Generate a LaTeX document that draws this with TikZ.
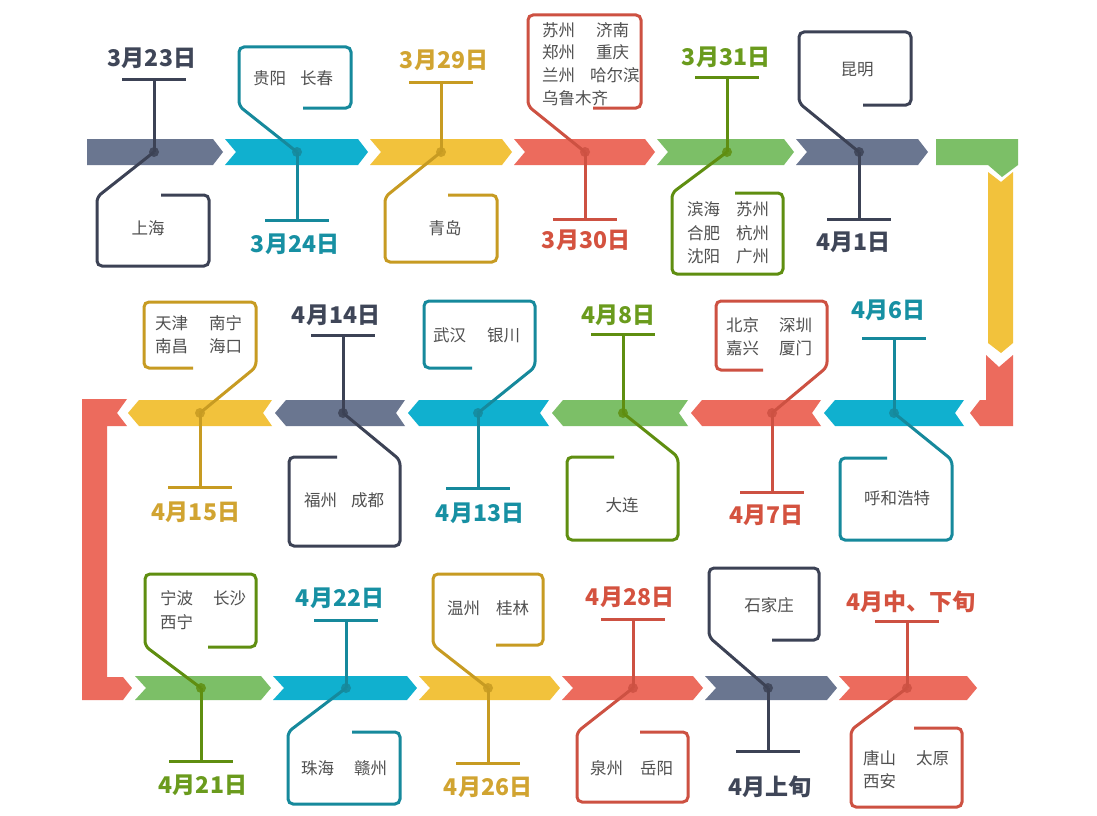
\documentclass[tikz,border=0pt]{standalone}
\usepackage{fontspec}
\newfontfamily\cjk{Noto Sans CJK SC}
\definecolor{grayB}{HTML}{6A7690}
\definecolor{grayL}{HTML}{3C4255}
\definecolor{grayT}{HTML}{3F4658}
\definecolor{cyanB}{HTML}{10B0CF}
\definecolor{cyanL}{HTML}{16899C}
\definecolor{cyanT}{HTML}{1790A3}
\definecolor{yelB}{HTML}{F2C23C}
\definecolor{yelL}{HTML}{C79B22}
\definecolor{yelT}{HTML}{D1A431}
\definecolor{redB}{HTML}{EC6B5D}
\definecolor{redL}{HTML}{CD5142}
\definecolor{redT}{HTML}{D4523F}
\definecolor{greB}{HTML}{7CBF67}
\definecolor{greL}{HTML}{5F8E10}
\definecolor{greT}{HTML}{6A9B1D}
\definecolor{cityC}{HTML}{505050}
\tikzset{
  ev/.style={line width=3pt, draw=#1},
  co/.style={line width=3pt, draw=#1, rounded corners=5pt},
  dotf/.style={fill=#1, opacity=.85},
  date/.style={font=\cjk\bfseries\fontsize{23}{26}\selectfont, inner sep=0pt, text=#1},
  city/.style={font=\cjk\fontsize{16.5}{23.3}\selectfont, text=cityC, inner sep=0pt, align=left},
}
\newcommand\chR[5]{\fill[#5] (#1,#3) -- ({#2-10},#3) -- (#2,{(#3+#4)/2}) -- ({#2-10},#4) -- (#1,#4) -- ({#1+11},{(#3+#4)/2}) -- cycle;}
\newcommand\chL[5]{\fill[#5] (#1,{(#3+#4)/2}) -- ({#1+11},#3) -- (#2,#3) -- ({#2-9},{(#3+#4)/2}) -- (#2,#4) -- ({#1+11},#4) -- cycle;}
\newcommand\pr[3]{\makebox[#1pt][l]{#2}#3}
\newcommand\stemT[4]{% style color, name, dot, T
  \draw[ev=#1] (#3) -- (#4);
  \draw[ev=#1] ([xshift=-32pt]#4) -- ([xshift=32pt]#4);}
\begin{document}
\begin{tikzpicture}[x=1pt,y=-1pt]
\fill[white] (0,0) rectangle (1097,816);
\useasboundingbox (0,0) rectangle (1097,816);
% ---------- bands row 1
\fill[grayB] (87,139) -- (213,139) -- (223,152) -- (213,165) -- (87,165) -- cycle;
\chR{225}{368}{139}{165}{cyanB}
\chR{370}{512}{139}{165}{yelB}
\chR{514}{655}{139}{165}{redB}
\chR{657}{794}{139}{165}{greB}
\chR{796}{928}{139}{165}{grayB}
\fill[greB] (936,139) -- (1018,139) -- (1018,165) -- (1002,177) -- (988,165) -- (936,165) -- cycle;
\fill[yelB] (988,172) -- (1001,182) -- (1013,172) -- (1013,343) -- (1001,353) -- (988,343) -- cycle;
\fill[redB] (986,355) -- (999,367) -- (1013,355) -- (1013,426) -- (980,426) -- (970,413) -- (980,400) -- (986,400) -- cycle;
% ---------- bands row 2
\chL{824}{964}{400}{426}{cyanB}
\chL{691}{821}{400}{426}{redB}
\chL{552}{688}{400}{426}{greB}
\chL{408}{549}{400}{426}{cyanB}
\chL{275}{405}{400}{426}{grayB}
\chL{128}{272}{400}{426}{yelB}
\fill[redB] (82,399) -- (127,399) -- (117,413) -- (127,426) -- (107,426) -- (107,677) -- (123,677) -- (132,688) -- (123,700) -- (82,700) -- cycle;
% ---------- bands row 3
\chR{135}{271}{676}{700}{greB}
\chR{273}{417}{676}{700}{cyanB}
\chR{419}{560}{676}{700}{yelB}
\chR{562}{703}{676}{700}{redB}
\chR{705}{837}{676}{700}{grayB}
\chR{839}{977}{676}{700}{redB}

% ================= row 1 events
% E1
\coordinate (e1) at (154,152); \coordinate (t1) at (154,79);
\stemT{grayL}{1}{e1}{t1}
\draw[co=grayL] (e1) -- (97,197) -- (97,266) -- (209,266) -- (209,195) -- (161,195);
\fill[dotf=grayL] (e1) circle[radius=5pt];
\node[date=grayT] (l1) at (152,58) {3月23日};
\node[city] (c1) at (148,228) {上海};
% E2
\coordinate (e2) at (297,152); \coordinate (t2) at (297,220);
\stemT{cyanL}{2}{e2}{t2}
\draw[co=cyanL] (e2) -- (239,106) -- (239,47) -- (351,47) -- (351,108) -- (303,108);
\fill[dotf=cyanL] (e2) circle[radius=5pt];
\node[date=cyanT] (l2) at (295,244) {3月24日};
\node[city,anchor=west] (c2) at (253,78) {\pr{47}{贵阳}{长春}};
% E3
\coordinate (e3) at (441,152); \coordinate (t3) at (441,82);
\stemT{yelL}{3}{e3}{t3}
\draw[co=yelL] (e3) -- (385,197) -- (385,262) -- (497,262) -- (497,195) -- (448,195);
\fill[dotf=yelL] (e3) circle[radius=5pt];
\node[date=yelT] (l3) at (444,60) {3月29日};
\node[city] (c3) at (445,228) {青岛};
% E4
\coordinate (e4) at (585,152); \coordinate (t4) at (585,219);
\stemT{redL}{4}{e4}{t4}
\draw[co=redL] (e4) -- (528,106) -- (528,15) -- (641,15) -- (641,108) -- (593,108);
\fill[dotf=redL] (e4) circle[radius=5pt];
\node[date=redT] (l4) at (586,240) {3月30日};
\node[city,anchor=west,font=\cjk\fontsize{16.5}{22.7}\selectfont] (c4) at (542,64) {\pr{54}{苏州}{济南}\\\pr{54}{郑州}{重庆}\\\pr{48}{兰州}{哈尔滨}\\乌鲁木齐};
% E5
\coordinate (e5) at (727,152); \coordinate (t5) at (727,77);
\stemT{greL}{5}{e5}{t5}
\draw[co=greL] (e5) -- (672,193) -- (672,274) -- (783,274) -- (783,193) -- (735,193);
\fill[dotf=greL] (e5) circle[radius=5pt];
\node[date=greT] (l5) at (726,57) {3月31日};
\node[city,anchor=west] (c5) at (687,233) {\pr{49}{滨海}{苏州}\\\pr{49}{合肥}{杭州}\\\pr{49}{沈阳}{广州}};
% E6
\coordinate (e6) at (859,152); \coordinate (t6) at (859,219);
\stemT{grayL}{6}{e6}{t6}
\draw[co=grayL] (e6) -- (799,103) -- (799,32) -- (911,32) -- (911,105) -- (863,105);
\fill[dotf=grayL] (e6) circle[radius=5pt];
\node[date=grayT] (l6) at (853,242) {4月1日};
\node[city] (c6) at (857,70) {昆明};

% ================= row 2 events
% E7
\coordinate (e7) at (894,413); \coordinate (t7) at (894,338);
\stemT{cyanL}{7}{e7}{t7}
\draw[co=cyanL] (e7) -- (952,460) -- (952,540) -- (840,540) -- (840,458) -- (887,458);
\fill[dotf=cyanL] (e7) circle[radius=5pt];
\node[date=cyanT] (l7) at (888,310) {4月6日};
\node[city] (c7) at (897,498) {呼和浩特};
% E8
\coordinate (e8) at (772,413); \coordinate (t8) at (772,492);
\stemT{redL}{8}{e8}{t8}
\draw[co=redL] (e8) -- (827,367) -- (827,301) -- (716,301) -- (716,370) -- (763,370);
\fill[dotf=redL] (e8) circle[radius=5pt];
\node[date=redT] (l8) at (766,515) {4月7日};
\node[city,anchor=west] (c8) at (726,336.5) {\pr{53}{北京}{深圳}\\\pr{53}{嘉兴}{厦门}};
% E9
\coordinate (e9) at (623,413); \coordinate (t9) at (623,334);
\stemT{greL}{9}{e9}{t9}
\draw[co=greL] (e9) -- (678,457) -- (678,540) -- (567,540) -- (567,457) -- (614,457);
\fill[dotf=greL] (e9) circle[radius=5pt];
\node[date=greT] (l9) at (618,315) {4月8日};
\node[city] (c9) at (622,505) {大连};
% E10
\coordinate (e10) at (478,413); \coordinate (t10) at (478,488);
\stemT{cyanL}{10}{e10}{t10}
\draw[co=cyanL] (e10) -- (535,367) -- (535,301) -- (424,301) -- (424,368) -- (472,368);
\fill[dotf=cyanL] (e10) circle[radius=5pt];
\node[date=cyanT] (l10) at (480,513) {4月13日};
\node[city,anchor=west] (c10) at (433,335) {\pr{54}{武汉}{银川}};
% E11
\coordinate (e11) at (343,413); \coordinate (t11) at (343,335);
\stemT{grayL}{11}{e11}{t11}
\draw[co=grayL] (e11) -- (400,460) -- (400,546) -- (289,546) -- (289,457) -- (337,457);
\fill[dotf=grayL] (e11) circle[radius=5pt];
\node[date=grayT] (l11) at (336,315) {4月14日};
\node[city,anchor=west] (c11) at (304,500) {\pr{47}{福州}{成都}};
% E12
\coordinate (e12) at (200,413); \coordinate (t12) at (200,487);
\stemT{yelL}{12}{e12}{t12}
\draw[co=yelL] (e12) -- (256,367) -- (256,302) -- (144,302) -- (144,368) -- (193,368);
\fill[dotf=yelL] (e12) circle[radius=5pt];
\node[date=yelT] (l12) at (196,512) {4月15日};
\node[city,anchor=west] (c12) at (155,335) {\pr{54}{天津}{南宁}\\\pr{54}{南昌}{海口}};

% ================= row 3 events
% E13
\coordinate (e13) at (201,688); \coordinate (t13) at (201,761);
\stemT{greL}{13}{e13}{t13}
\draw[co=greL] (e13) -- (145,646) -- (145,574) -- (256,574) -- (256,647) -- (208,647);
\fill[dotf=greL] (e13) circle[radius=5pt];
\node[date=greT] (l13) at (203,785) {4月21日};
\node[city,anchor=west] (c13) at (160,610) {\pr{53}{宁波}{长沙}\\西宁};
% E14
\coordinate (e14) at (346,688); \coordinate (t14) at (346,620);
\stemT{cyanL}{14}{e14}{t14}
\draw[co=cyanL] (e14) -- (288,732) -- (288,804) -- (400,804) -- (400,732) -- (352,732);
\fill[dotf=cyanL] (e14) circle[radius=5pt];
\node[date=cyanT] (l14) at (340,598) {4月22日};
\node[city,anchor=west] (c14) at (301,768) {\pr{53}{珠海}{赣州}};
% E15
\coordinate (e15) at (488,688); \coordinate (t15) at (488,763);
\stemT{yelL}{15}{e15}{t15}
\draw[co=yelL] (e15) -- (433,645) -- (433,574) -- (543,574) -- (543,645) -- (496,645);
\fill[dotf=yelL] (e15) circle[radius=5pt];
\node[date=yelT] (l15) at (488,787) {4月26日};
\node[city,anchor=west] (c15) at (447,608) {\pr{49}{温州}{桂林}};
% E16
\coordinate (e16) at (633,688); \coordinate (t16) at (633,619);
\stemT{redL}{16}{e16}{t16}
\draw[co=redL] (e16) -- (577,732) -- (577,802) -- (688,802) -- (688,732) -- (640,732);
\fill[dotf=redL] (e16) circle[radius=5pt];
\node[date=redT] (l16) at (630,597) {4月28日};
\node[city,anchor=west] (c16) at (590,768) {\pr{50}{泉州}{岳阳}};
% E17
\coordinate (e17) at (768,688); \coordinate (t17) at (768,751);
\stemT{grayL}{17}{e17}{t17}
\draw[co=grayL] (e17) -- (709,637) -- (709,568) -- (819,568) -- (819,640) -- (772,640);
\fill[dotf=grayL] (e17) circle[radius=5pt];
\node[date=grayT] (l17) at (770,787) {4月上旬};
\node[city] (c17) at (769,605) {石家庄};
% E18
\coordinate (e18) at (907,688); \coordinate (t18) at (907,621);
\stemT{redL}{18}{e18}{t18}
\draw[co=redL] (e18) -- (851,730) -- (851,807) -- (962,807) -- (962,728) -- (914,728);
\fill[dotf=redL] (e18) circle[radius=5pt];
\node[date=redT] (l18) at (911,602) {4月中、下旬};
\node[city,anchor=west] (c18) at (863,769.5) {\pr{53}{唐山}{太原}\\西安};
\end{tikzpicture}
\end{document}
